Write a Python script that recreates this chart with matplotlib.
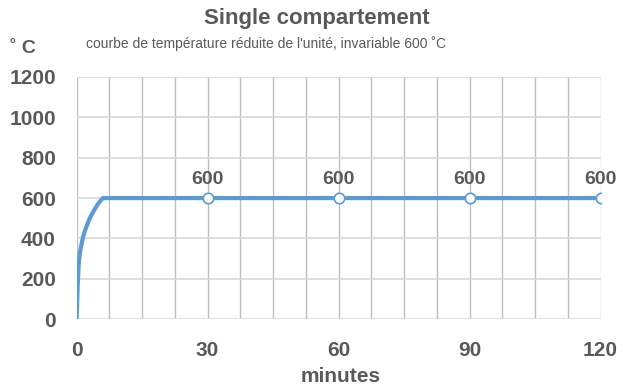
import numpy as np
import matplotlib
matplotlib.use("Agg")
import matplotlib.pyplot as plt

# Données
minutes = [0, 0.25, 0.5, 0.75, 1, 1.5, 2, 3, 4, 5, 6, 30, 60, 90, 120]
temperature = [0, 170, 280, 330, 360, 410, 445, 500, 540, 575, 600, 600, 600, 600, 600]
marker_minutes = [30, 60, 90, 120]
marker_temperature = [600, 600, 600, 600]
x_ticks = [0, 30, 60, 90, 120]
y_ticks = [0, 200, 400, 600, 800, 1000, 1200]

plt.rcParams["font.family"] = ["Liberation Sans", "DejaVu Sans"]
TEXT = "#595959"
BLUE = "#5b9bd5"

fig = plt.figure(figsize=(6.23, 3.85), dpi=100)
ax = fig.add_axes([0.123, 0.171, 0.841, 0.629])

# grille
for x in np.arange(0, 120.1, 7.5):
    ax.axvline(x, color="#bfbfbf", linewidth=1.0, zorder=1)
for y in y_ticks:
    ax.axhline(y, color="#d9d9d9", linewidth=1.2, zorder=1)

ax.plot(minutes, temperature, color=BLUE, linewidth=3, zorder=3,
        solid_capstyle="butt")
ax.plot(marker_minutes, marker_temperature, linestyle="none", marker="o",
        markersize=7.5, markerfacecolor="white", markeredgecolor=BLUE,
        markeredgewidth=1.2, zorder=4)
for x, y in zip(marker_minutes, marker_temperature):
    ax.annotate(str(y), (x, y), xytext=(0, 7), textcoords="offset points",
                ha="center", va="bottom", fontsize=14, fontweight="bold",
                color=TEXT)

ax.set_xlim(0, 120)
ax.set_ylim(0, 1200)
ax.set_xticks(x_ticks)
ax.set_yticks(y_ticks)
ax.tick_params(length=0, labelsize=15, colors=TEXT)
ax.tick_params(axis="y", pad=15)
ax.tick_params(axis="x", pad=16)
for lbl in ax.get_xticklabels() + ax.get_yticklabels():
    lbl.set_fontweight("bold")
for s in ax.spines.values():
    s.set_visible(False)

fig.text(0.509, 0.953, "Single compartement", ha="center", va="center",
         fontsize=16, fontweight="bold", color=TEXT)
fig.text(0.427, 0.886, "courbe de température réduite de l'unité, invariable 600 ˚C",
         ha="center", va="center", fontsize=10, color=TEXT)
fig.text(0.037, 0.875, "˚ C", ha="center", va="center", fontsize=14,
         fontweight="bold", color=TEXT)
fig.text(0.547, 0.023, "minutes", ha="center", va="center", fontsize=15,
         fontweight="bold", color=TEXT)

fig.savefig("out.png", dpi=100)
